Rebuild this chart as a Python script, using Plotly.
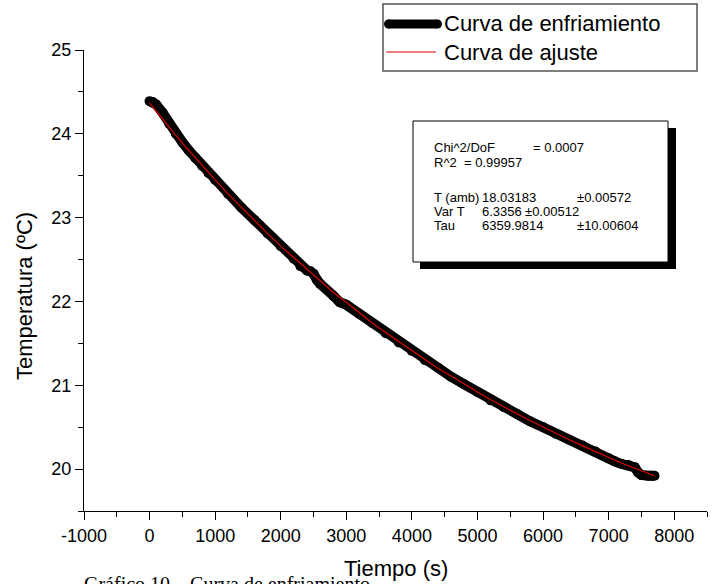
import plotly.graph_objects as go

# Measured cooling curve: time (s) and temperature (ºC)
t_meas = [0, 50, 100, 200, 300, 400, 500, 600, 700, 800, 900, 1000, 1200, 1400,
          1600, 1800, 2000, 2200, 2300, 2400, 2450, 2500, 2550, 2600, 2800, 2900,
          3000, 3200, 3400, 3600, 3800, 4000, 4200, 4400, 4600, 4800, 5000, 5200,
          5400, 5600, 5800, 6000, 6200, 6400, 6600, 6800, 7000, 7100, 7200, 7300,
          7400, 7450, 7500, 7600, 7650, 7700]
temp_meas = [24.39, 24.38, 24.35, 24.25, 24.12, 24.00, 23.90, 23.80, 23.71, 23.62,
             23.53, 23.45, 23.28, 23.12, 22.97, 22.81, 22.66, 22.51, 22.42, 22.37,
             22.36, 22.33, 22.26, 22.21, 22.07, 21.99, 21.96, 21.85, 21.74, 21.62,
             21.51, 21.41, 21.30, 21.21, 21.10, 21.01, 20.92, 20.82, 20.74, 20.66,
             20.57, 20.50, 20.42, 20.35, 20.28, 20.21, 20.13, 20.09, 20.06, 20.05,
             20.02, 19.96, 19.93, 19.92, 19.92, 19.92]

# Fitted curve
t_fit = [0, 100, 200, 300, 400, 500, 600, 700, 800, 900, 1000, 1200, 1400, 1600,
         1800, 2000, 2200, 2400, 2600, 2800, 3000, 3200, 3400, 3600, 3800, 4000,
         4200, 4400, 4600, 4800, 5000, 5200, 5400, 5600, 5800, 6000, 6200, 6400,
         6600, 6800, 7000, 7200, 7400, 7600, 7700]
temp_fit = [24.37, 24.27, 24.17, 24.08, 23.98, 23.89, 23.80, 23.71, 23.62, 23.53,
            23.45, 23.28, 23.12, 22.96, 22.81, 22.66, 22.52, 22.38, 22.24, 22.11,
            21.99, 21.86, 21.74, 21.63, 21.52, 21.41, 21.31, 21.20, 21.11, 21.01,
            20.92, 20.83, 20.74, 20.66, 20.58, 20.50, 20.42, 20.35, 20.28, 20.21,
            20.14, 20.07, 20.01, 19.95, 19.92]

x_ticks = [-1000, 0, 1000, 2000, 3000, 4000, 5000, 6000, 7000, 8000]
y_ticks = [20, 21, 22, 23, 24, 25]

legend_labels = ["Curva de enfriamiento", "Curva de ajuste"]
fit_rows = [
    ["Chi^2/DoF", "= 0.0007", ""],
    ["R^2", "= 0.99957", ""],
    ["T (amb)", "18.03183", "±0.00572"],
    ["Var T", "6.3356", "±0.00512"],
    ["Tau", "6359.9814", "±10.00604"],
]
caption = "Gráfico 10 – Curva de enfriamiento"

W, H = 716, 584
L, R, T, B = 84, 9, 50, 73
PW, PH = W - L - R, H - T - B
SANS = "Arial, Liberation Sans, sans-serif"
SERIF = "Times New Roman, Liberation Serif, serif"


def px_x(p):
    return (p - L) / PW


def px_y(p):
    return (H - B - p) / PH


fig = go.Figure()
fig.add_trace(go.Scatter(
    x=t_meas, y=temp_meas, mode="lines+markers",
    line=dict(color="black", width=10),
    marker=dict(color="black", size=10),
    showlegend=False,
))
fig.add_trace(go.Scatter(
    x=t_fit, y=temp_fit, mode="lines",
    line=dict(color="#e00000", width=1.2),
    showlegend=False,
))

shapes = []
annotations = []

# Legend box
shapes.append(dict(type="rect", xref="paper", yref="paper",
                   x0=px_x(383), x1=px_x(697), y0=px_y(71), y1=px_y(4),
                   line=dict(color="#555555", width=1.5), fillcolor="white", layer="above"))
shapes.append(dict(type="line", xref="paper", yref="paper",
                   x0=px_x(388), x1=px_x(437), y0=px_y(24), y1=px_y(24),
                   line=dict(color="black", width=9), layer="above"))
shapes.append(dict(type="circle", xref="paper", yref="paper",
                   x0=px_x(384), x1=px_x(393), y0=px_y(28.5), y1=px_y(19.5),
                   line=dict(width=0), fillcolor="black", layer="above"))
shapes.append(dict(type="circle", xref="paper", yref="paper",
                   x0=px_x(433), x1=px_x(442), y0=px_y(28.5), y1=px_y(19.5),
                   line=dict(width=0), fillcolor="black", layer="above"))
shapes.append(dict(type="line", xref="paper", yref="paper",
                   x0=px_x(386), x1=px_x(436), y0=px_y(52), y1=px_y(52),
                   line=dict(color="#e00000", width=1.2), layer="above"))
for lab, yy in zip(legend_labels, [24, 52]):
    annotations.append(dict(text=lab, xref="paper", yref="paper", x=px_x(442), y=px_y(yy),
                            xanchor="left", yanchor="middle", showarrow=False,
                            font=dict(family=SANS, size=22, color="black")))

# Fit results box with drop shadow
shapes.append(dict(type="rect", xref="paper", yref="paper",
                   x0=px_x(420), x1=px_x(676), y0=px_y(269), y1=px_y(128),
                   line=dict(width=0), fillcolor="black", layer="above"))
shapes.append(dict(type="rect", xref="paper", yref="paper",
                   x0=px_x(413), x1=px_x(668), y0=px_y(262), y1=px_y(121),
                   line=dict(color="black", width=1), fillcolor="white", layer="above"))
row_y = [147, 162, 197, 211, 225]
col_x = [[432, 531], [432, 462], [432, 480, 575], [432, 480, 523], [432, 480, 575]]
for row, yy, cx in zip(fit_rows, row_y, col_x):
    for txt, xx in zip(row, cx):
        if txt:
            annotations.append(dict(text=txt, xref="paper", yref="paper", x=px_x(xx), y=px_y(yy),
                                    xanchor="left", yanchor="middle", showarrow=False,
                                    font=dict(family=SANS, size=13, color="black")))

# Axis titles
annotations.append(dict(text="Temperatura (ºC)", xref="paper", yref="paper",
                        x=px_x(24), y=px_y(296), textangle=-90, xanchor="center", yanchor="middle",
                        showarrow=False, font=dict(family=SANS, size=22, color="black")))
annotations.append(dict(text="Tiempo (s)", xref="paper", yref="paper",
                        x=px_x(396), y=px_y(568), xanchor="center", yanchor="middle",
                        showarrow=False, font=dict(family=SANS, size=22, color="black")))
# Caption below the chart
annotations.append(dict(text=caption, xref="paper", yref="paper",
                        x=px_x(82), y=px_y(571), xanchor="left", yanchor="top",
                        showarrow=False, font=dict(family=SERIF, size=20, color="black")))

axis_common = dict(showline=True, linecolor="black", linewidth=1.3, ticks="outside",
                   ticklen=8, tickwidth=1.3, tickcolor="black", showgrid=False, zeroline=False,
                   tickfont=dict(family=SANS, size=18, color="black"), mirror=False)

fig.update_layout(
    width=W, height=H,
    margin=dict(l=L, r=R, t=T, b=B, pad=0),
    paper_bgcolor="white", plot_bgcolor="white",
    xaxis=dict(range=[-1000, 8500], tickvals=x_ticks, ticktext=[str(v) for v in x_ticks],
               minor=dict(dtick=500, tick0=0, ticks="outside", ticklen=5, tickcolor="black", tickwidth=1.3),
               **axis_common),
    yaxis=dict(range=[19.5, 25], tickvals=y_ticks, ticktext=[str(v) for v in y_ticks],
               minor=dict(dtick=0.5, tick0=0, ticks="outside", ticklen=5, tickcolor="black", tickwidth=1.3),
               **axis_common),
    shapes=shapes,
    annotations=annotations,
)

fig.write_html("out.html")
